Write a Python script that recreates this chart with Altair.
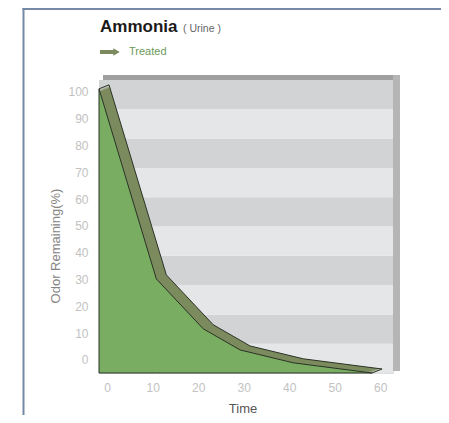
import altair as alt
import numpy as np
import pandas as pd

# ---- data (in axis units) ----
time = [-1.8, 10.8, 21.1, 29.2, 40.9, 58.2]
odor = [101.1, 30.2, 11.6, 3.7, -1.1, -4.9]
x_ticks = [0, 10, 20, 30, 40, 50, 60]
y_ticks = [0, 10, 20, 30, 40, 50, 60, 70, 80, 90, 100]
x_domain = [-1.8, 62.8]
y_domain = [-4.9, 104.4]

title_main = "Ammonia"
title_sub = "( Urine )"
legend_label = "Treated"
x_title = "Time"
y_title = "Odor Remaining(%)"

W, H = 294, 293
DEPTH_X, DEPTH_Y = 10, -4

GREEN = "#78ad62"
OLIVE = "#7b8b5e"
EDGE = "#2b3326"

df = pd.DataFrame({"t": time, "v": odor, "base": [y_domain[0]] * len(time)})
one = pd.DataFrame({"a": [0]})

xs = alt.Scale(domain=x_domain, nice=False, zero=False)
ys = alt.Scale(domain=y_domain, nice=False, zero=False)

x_axis = alt.Axis(values=x_ticks, domain=False, ticks=False, grid=False,
                  labelPadding=9, labelColor="#c2c2c2", labelFontSize=12,
                  title=None)
y_axis = alt.Axis(values=y_ticks, domain=False, ticks=False, grid=False,
                  labelPadding=11, labelColor="#c2c2c2", labelFontSize=12,
                  title=None)

# background bands (10 equal stripes)
edges = np.linspace(y_domain[0], y_domain[1], 11)
bands = pd.DataFrame({
    "lo": edges[:-1],
    "hi": edges[1:],
    "c": ["#e5e6e8" if i % 2 == 0 else "#d2d3d5" for i in range(10)],
})
band_layer = alt.Chart(bands).mark_rect().encode(
    y=alt.Y("lo:Q", scale=ys, axis=y_axis),
    y2="hi:Q",
    x=alt.value(0),
    x2=alt.value(W),
    color=alt.Color("c:N", scale=None),
)

top_strip = alt.Chart(one).mark_rect(color="#a0a0a0").encode(
    x=alt.value(4), x2=alt.value(W + 7), y=alt.value(-5), y2=alt.value(0)
)
right_strip = alt.Chart(one).mark_rect(color="#b5b5b5").encode(
    x=alt.value(W), x2=alt.value(W + 7), y=alt.value(-5), y2=alt.value(H - 2)
)

# 3D ribbon: union of shifted copies of the area
N = 10
ribbon_layers = []
for k in range(1, N + 1):
    dx = DEPTH_X * k / N
    dy = DEPTH_Y * k / N
    ribbon_layers.append(
        alt.Chart(df).mark_area(color=OLIVE, xOffset=dx, yOffset=dy, y2Offset=dy).encode(
            x=alt.X("t:Q", scale=xs, axis=x_axis),
            y=alt.Y("v:Q", scale=ys, axis=y_axis),
            y2="base:Q",
        )
    )

ribbon_line = alt.Chart(df).mark_line(
    color=EDGE, strokeWidth=1, xOffset=DEPTH_X, yOffset=DEPTH_Y
).encode(
    x=alt.X("t:Q", scale=xs, axis=x_axis),
    y=alt.Y("v:Q", scale=ys, axis=y_axis),
)

ends = df.iloc[[0, len(df) - 1]]
ribbon_ends = alt.Chart(ends).mark_rule(
    color=EDGE, strokeWidth=1, x2Offset=DEPTH_X, y2Offset=DEPTH_Y
).encode(
    x=alt.X("t:Q", scale=xs, axis=x_axis),
    y=alt.Y("v:Q", scale=ys, axis=y_axis),
    x2="t:Q",
    y2="v:Q",
)

front = alt.Chart(df).mark_area(color=GREEN, stroke=EDGE, strokeWidth=1).encode(
    x=alt.X("t:Q", scale=xs, axis=x_axis),
    y=alt.Y("v:Q", scale=ys, axis=y_axis),
    y2="base:Q",
)

t_main = alt.Chart(one).mark_text(
    text=title_main, fontSize=17, fontWeight="bold", color="#1a1a1a",
    align="left", baseline="alphabetic"
).encode(x=alt.value(1), y=alt.value(-48))
t_sub = alt.Chart(one).mark_text(
    text=title_sub, fontSize=10.5, color="#666666", align="left", baseline="alphabetic"
).encode(x=alt.value(84), y=alt.value(-48))

leg_line = alt.Chart(one).mark_rule(color=OLIVE, strokeWidth=4).encode(
    x=alt.value(1), x2=alt.value(16), y=alt.value(-28)
)
leg_head = alt.Chart(one).mark_point(
    shape="triangle-right", filled=True, color=OLIVE, size=55, opacity=1
).encode(x=alt.value(17.5), y=alt.value(-28))
leg_text = alt.Chart(one).mark_text(
    text=legend_label, fontSize=11, color="#6b9a58", align="left", baseline="alphabetic"
).encode(x=alt.value(30), y=alt.value(-25))

y_lab = alt.Chart(one).mark_text(
    text=y_title, fontSize=13, color="#858585", angle=270,
    align="center", baseline="middle"
).encode(x=alt.value(-43), y=alt.value(166))
x_lab = alt.Chart(one).mark_text(
    text=x_title, fontSize=13, color="#555555", align="center", baseline="alphabetic"
).encode(x=alt.value(144), y=alt.value(333))

frame_left = alt.Chart(one).mark_rule(color="#7589a6", strokeWidth=2).encode(
    x=alt.value(-75.5), y=alt.value(-72), y2=alt.value(335)
)
frame_top = alt.Chart(one).mark_rule(color="#7589a6", strokeWidth=2).encode(
    x=alt.value(-76.5), x2=alt.value(W + 48), y=alt.value(-71)
)

chart = alt.layer(
    band_layer, top_strip, right_strip, *ribbon_layers, ribbon_line, ribbon_ends,
    front, t_main, t_sub, leg_line, leg_head, leg_text, y_lab, x_lab,
    frame_left, frame_top,
).properties(
    width=W, height=H,
    padding={"left": 91, "top": 72, "right": 48, "bottom": 42},
    autosize=alt.AutoSizeParams(type="none"),
    background="white",
).configure_view(stroke=None).configure(font="Liberation Sans")

chart.save("out.html", embed_options={"renderer": "svg", "actions": False})
